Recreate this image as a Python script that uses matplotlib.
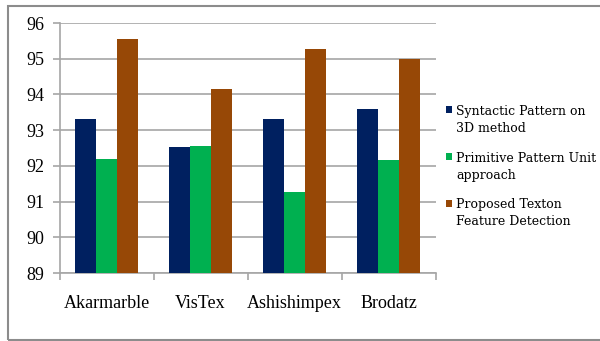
import matplotlib
matplotlib.use("Agg")
import matplotlib.pyplot as plt
import numpy as np
from matplotlib.patches import Rectangle

categories = ["Akarmarble", "VisTex", "Ashishimpex", "Brodatz"]
series_names = [
    "Syntactic Pattern on\n3D method",
    "Primitive Pattern Unit\napproach",
    "Proposed Texton\nFeature Detection",
]
syntactic = [93.30, 92.53, 93.30, 93.58]
primitive = [92.18, 92.56, 91.26, 92.16]
texton = [95.56, 94.14, 95.27, 94.99]
yticks = [89, 90, 91, 92, 93, 94, 95, 96]

colors = ["#002060", "#00B050", "#974806"]
grid_col = "#a6a6a6"

fig = plt.figure(figsize=(6.0, 3.41), dpi=100)
W, H = 600, 341

# outer frame of the chart
fig.patches.append(Rectangle((7.5 / W, 1 - 340 / H), 1.0, (340 - 5.5) / H,
                             transform=fig.transFigure, fill=False,
                             edgecolor="#8c8c8c", linewidth=1.5))

ax = fig.add_axes([59.5 / W, 1 - 273 / H, (435.7 - 59.5) / W, (273 - 23) / H])

x = np.arange(len(categories))
bw = 0.221
for i, (vals, c) in enumerate(zip([syntactic, primitive, texton], colors)):
    ax.bar(x + (i - 1) * bw, np.array(vals) - 89, bottom=89, width=bw,
           color=c, label=series_names[i], zorder=3)

ax.set_xlim(-0.5, len(categories) - 0.5)
ax.set_ylim(89, 96)
ax.set_yticks(yticks)
ax.set_yticklabels([str(t) for t in yticks], fontfamily="Liberation Serif",
                   fontsize=13)
ax.yaxis.grid(True, color=grid_col, linewidth=1.2, zorder=0)
ax.tick_params(axis="y", length=5, color=grid_col, width=1.2, pad=6)

# category labels between boundary ticks
ax.set_xticks(np.arange(len(categories) + 1) - 0.5)
ax.set_xticklabels([])
ax.tick_params(axis="x", length=5, color=grid_col, width=1.2)
for xi, name in zip(x, categories):
    ax.text(xi, 88.15, name, ha="center", va="center",
            fontfamily="Liberation Serif", fontsize=13)

for side in ["top", "right"]:
    ax.spines[side].set_visible(False)
for side in ["left", "bottom"]:
    ax.spines[side].set_color(grid_col)
    ax.spines[side].set_linewidth(1.2)

# legend: small square key aligned with the first line of each label
first_line_y = 110.0
entry_pitch = 46.7
line_gap = 17.0
for i, (name, c) in enumerate(zip(series_names, colors)):
    y0 = first_line_y + i * entry_pitch
    fig.patches.append(Rectangle((445.5 / W, 1 - (y0 + 3.5) / H), 6.5 / W, 7 / H,
                                 transform=fig.transFigure, facecolor=c,
                                 edgecolor="none"))
    for j, line in enumerate(name.split("\n")):
        fig.text(456 / W, 1 - (y0 + j * line_gap) / H, line,
                 ha="left", va="center_baseline",
                 fontfamily="DejaVu Serif", fontsize=9.0)

fig.savefig("out.png", dpi=100)
